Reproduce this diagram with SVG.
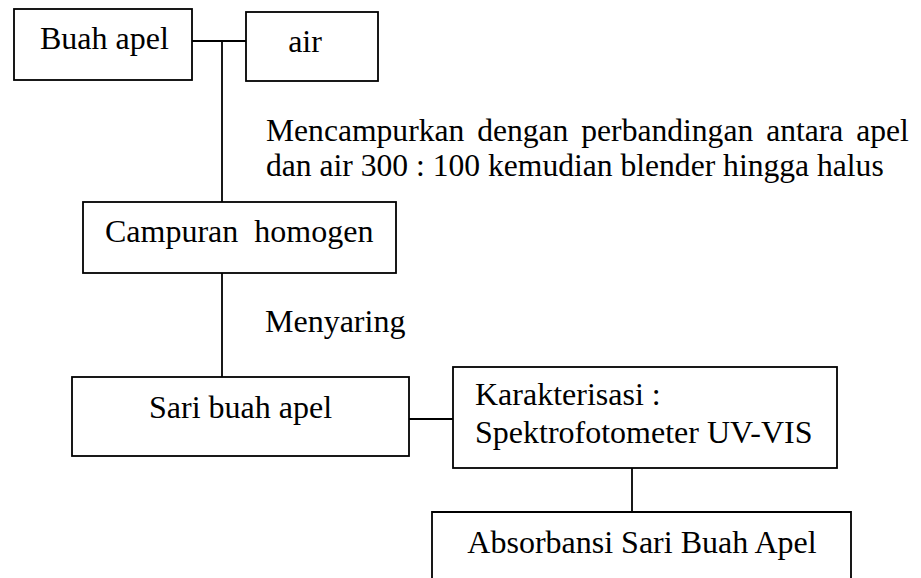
<svg xmlns="http://www.w3.org/2000/svg" width="921" height="578" viewBox="0 0 921 578">
<style>
rect{fill:#fff;stroke:#000;stroke-width:1.8}
line,path{stroke:#000;stroke-width:1.8;fill:none}
</style>
<rect x="0" y="0" width="921" height="578" style="stroke:none"/>
<g id="connectors">
<line x1="192" y1="41" x2="246" y2="41"/>
<line x1="222" y1="41" x2="222" y2="202"/>
<line x1="222" y1="273" x2="222" y2="377"/>
<line x1="409" y1="419" x2="453" y2="419"/>
<line x1="632" y1="468" x2="632" y2="512"/>
</g>
<g font-family="'Liberation Serif', 'Times New Roman', serif" font-size="32" fill="#000">
<g id="buah-apel"><rect x="14" y="9" width="178" height="71"/><text x="40" y="49">Buah apel</text></g>
<g id="air"><rect x="246" y="12" width="132" height="69"/><text x="305" y="52" text-anchor="middle">air</text></g>
<g id="label-mencampurkan" font-size="31.6">
<text x="266" y="141" word-spacing="5">Mencampurkan dengan perbandingan antara apel</text>
<text x="266" y="176">dan air 300 : 100 kemudian blender hingga halus</text>
</g>
<g id="campuran"><rect x="83" y="202" width="313" height="71"/><text x="105" y="242" xml:space="preserve">Campuran  homogen</text></g>
<g id="label-menyaring"><text x="265" y="332">Menyaring</text></g>
<g id="sari"><rect x="72" y="377" width="337" height="79"/><text x="240.5" y="418" text-anchor="middle">Sari buah apel</text></g>
<g id="karakterisasi"><rect x="453" y="367" width="384" height="101"/><text x="475" y="405">Karakterisasi :</text><text x="475" y="443">Spektrofotometer UV-VIS</text></g>
<g id="absorbansi"><path d="M432 579V512H851V579"/><text x="642" y="553" text-anchor="middle">Absorbansi Sari Buah Apel</text></g>
</g>
</svg>
